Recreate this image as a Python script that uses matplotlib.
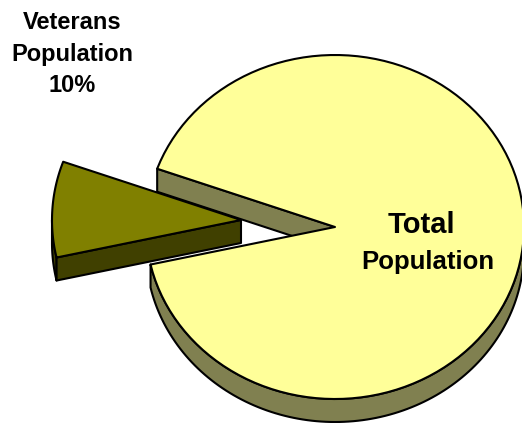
import numpy as np
import matplotlib
matplotlib.use("Agg")
import matplotlib.pyplot as plt
from matplotlib.patches import Polygon

# values, the printed label says 10%
slices = ["Total Population", "Veterans Population"]
shares = [91, 9]
vet_label = "Veterans\nPopulation\n10%"

plt.rcParams["font.family"] = ["Liberation Sans", "DejaVu Sans"]

CX, CY = 335, 227
RX, RY = 189, 172
DEPTH = 23
VET_START = 167.4  # y axis is flipped, so angles run clockwise on screen
EXPLODE = (-94, -7)


def arc(t0, t1, dx=0, dy=0):
    t = np.radians(np.linspace(t0, t1, 120))
    return np.column_stack([CX + dx + RX * np.cos(t), CY + dy + RY * np.sin(t)])


def face(ax, pts, color, z):
    ax.add_patch(Polygon(pts, closed=True, fc=color, ec="black", lw=1.5, joinstyle="round", zorder=z))


fig = plt.figure(figsize=(5.22, 4.23), dpi=100)
ax = fig.add_axes([0, 0, 1, 1])
ax.set_xlim(0, 522)
ax.set_ylim(423, 0)
ax.axis("off")

sweep = 360 * shares[1] / sum(shares)
vet_a, vet_b = VET_START, VET_START + sweep
main_a, main_b = vet_b, VET_START + 360

# big slice: inner wall, rim, then top
p_up = arc(main_a, main_a + 0.01)[0]
wall = [p_up, (CX, CY), (CX, CY + DEPTH), p_up + (0, DEPTH)]
face(ax, wall, "#808050", 1)
face(ax, np.vstack([arc(0, vet_a), arc(vet_a, 0, dy=DEPTH)]), "#808050", 2)
face(ax, np.vstack([[(CX, CY)], arc(main_a, main_b)]), "#FFFF99", 3)

# small slice pulled out to the left
dx, dy = EXPLODE
face(ax, np.vstack([arc(vet_a, 180, dx, dy), arc(180, vet_a, dx, dy + DEPTH)]), "#404000", 4)
low = arc(vet_a, vet_a + 0.01, dx, dy)[0]
c = np.array([CX + dx, CY + dy])
face(ax, [low, c, c + (0, DEPTH), low + (0, DEPTH)], "#404000", 5)
face(ax, np.vstack([[c], arc(vet_a, vet_b, dx, dy)]), "#808000", 6)

# "Total" is wider set than "Population" in the original, so two texts
ax.text(421.5, 225, "Total", ha="center", va="center", fontsize=21, fontweight="bold", zorder=7)
ax.text(428, 262, "Population", ha="center", va="center", fontsize=18.5, fontweight="bold", zorder=7)
ax.text(72, 54, vet_label, ha="center", va="center", fontsize=17, fontweight="bold",
        linespacing=1.48, zorder=7)

fig.savefig("out.png", dpi=100)
